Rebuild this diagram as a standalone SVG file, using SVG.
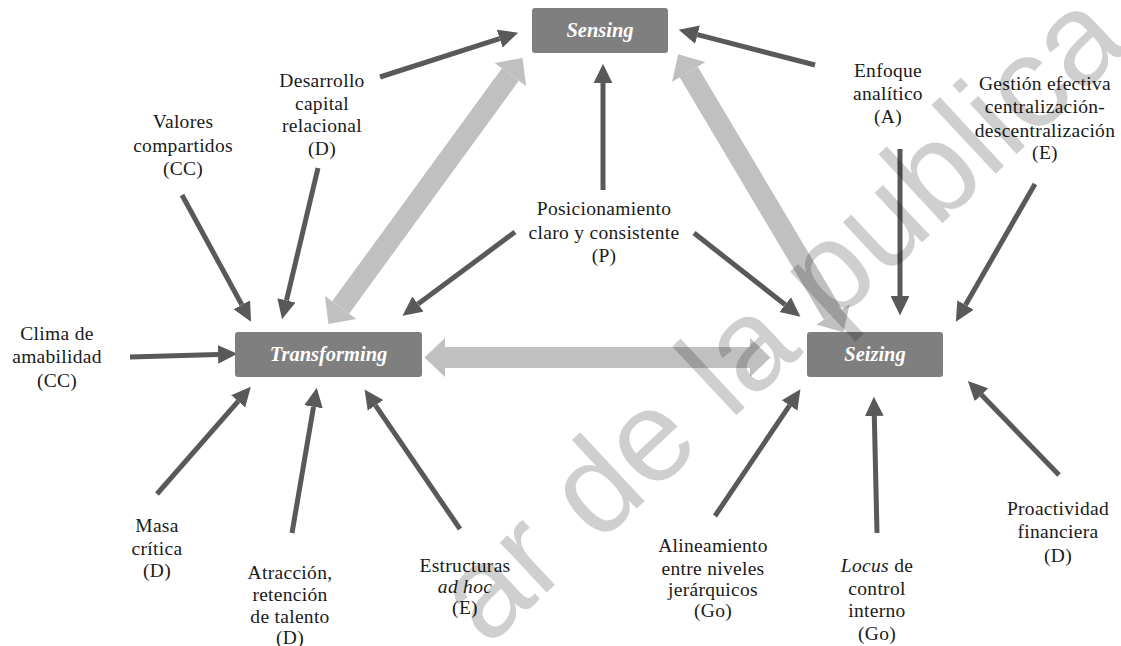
<svg xmlns="http://www.w3.org/2000/svg" width="1121" height="646" viewBox="0 0 1121 646">
  <style>
    .lbl { font-size: 19.5px; fill: #1a1a1a; text-anchor: middle; letter-spacing: 0.3px; }
    .it { font-style: italic; }
    .box { fill: #7f7f7f; }
    .title { font-size: 20.5px; font-style: italic; font-weight: bold; fill: #ffffff; text-anchor: middle; }
    .dark { stroke: #595959; stroke-width: 5; fill: none; marker-end: url(#headDark); }
    .light { stroke: #c0c0c0; stroke-width: 21; fill: none; marker-start: url(#headLight); marker-end: url(#headLight); }
    .wm { font-size: 130px; fill: #000000; fill-opacity: 0.19; }
  </style>
  <defs>
    <marker id="headDark" markerUnits="userSpaceOnUse" markerWidth="20" markerHeight="20" viewBox="0 -8 16 16" refX="0" refY="0" orient="auto">
      <path d="M0,-7.5 L15.5,0 L0,7.5 z" fill="#595959"/>
    </marker>
    <marker id="headLight" markerUnits="userSpaceOnUse" markerWidth="24" markerHeight="40" viewBox="0 -18 20 36" refX="0" refY="0" orient="auto-start-reverse">
      <path d="M0,-17.5 L18.5,0 L0,17.5 z" fill="#c0c0c0"/>
    </marker>
  </defs>

  <!-- wide two-way links between the three capabilities -->
  <g id="connectors">
    <line class="light" x1="445" y1="357.5" x2="750" y2="357.5"/>
    <line class="light" x1="340.6" y1="307.5" x2="510.4" y2="74.5"/>
    <line class="light" x1="688.7" y1="72" x2="832.9" y2="314.5"/>

    <!-- single-factor arrows -->
    <line class="dark" x1="380" y1="77" x2="499.7" y2="38.6"/>
    <line class="dark" x1="815" y1="65" x2="697.5" y2="34.7"/>
    <line class="dark" x1="603" y1="190" x2="603" y2="83"/>
    <line class="dark" x1="515" y1="232" x2="418" y2="304.1"/>
    <line class="dark" x1="694" y1="233" x2="785.2" y2="304.7"/>
    <line class="dark" x1="182" y1="195" x2="241.8" y2="304.8"/>
    <line class="dark" x1="318" y1="168" x2="286.5" y2="300.4"/>
    <line class="dark" x1="130" y1="357" x2="218" y2="354.4"/>
    <line class="dark" x1="157" y1="494" x2="238.1" y2="401.3"/>
    <line class="dark" x1="292" y1="533" x2="313.5" y2="406.8"/>
    <line class="dark" x1="460" y1="529" x2="375.5" y2="405.4"/>
    <line class="dark" x1="715" y1="516" x2="789.6" y2="405.4"/>
    <line class="dark" x1="877" y1="533" x2="874.3" y2="416"/>
    <line class="dark" x1="1059" y1="475" x2="981.4" y2="394.8"/>
    <line class="dark" x1="900" y1="149" x2="900" y2="296"/>
    <line class="dark" x1="1035" y1="184" x2="965.5" y2="305"/>
  </g>

  <g font-family="Liberation Serif, Times New Roman, serif">
    <g id="sensing">
      <rect class="box" x="532" y="8" width="136" height="45" rx="3"/>
      <text class="title" x="600" y="37">Sensing</text>
    </g>
    <g id="transforming">
      <rect class="box" x="235" y="332" width="187" height="45" rx="3"/>
      <text class="title" x="328.5" y="361">Transforming</text>
    </g>
    <g id="seizing">
      <rect class="box" x="807" y="332" width="136" height="45" rx="3"/>
      <text class="title" x="875" y="361">Seizing</text>
    </g>

    <g id="valores">
      <text class="lbl" x="183" y="128">Valores</text>
      <text class="lbl" x="183" y="152">compartidos</text>
      <text class="lbl" x="183" y="175">(CC)</text>
    </g>
    <g id="desarrollo">
      <text class="lbl" x="322" y="87">Desarrollo</text>
      <text class="lbl" x="322" y="110">capital</text>
      <text class="lbl" x="322" y="132">relacional</text>
      <text class="lbl" x="322" y="155">(D)</text>
    </g>
    <g id="enfoque">
      <text class="lbl" x="888" y="77">Enfoque</text>
      <text class="lbl" x="888" y="100">analítico</text>
      <text class="lbl" x="888" y="123">(A)</text>
    </g>
    <g id="gestion">
      <text class="lbl" x="1045" y="90">Gestión efectiva</text>
      <text class="lbl" x="1045" y="113">centralización-</text>
      <text class="lbl" x="1045" y="137">descentralización</text>
      <text class="lbl" x="1045" y="159">(E)</text>
    </g>
    <g id="posicionamiento">
      <text class="lbl" x="604" y="215">Posicionamiento</text>
      <text class="lbl" x="604" y="239">claro y consistente</text>
      <text class="lbl" x="604" y="262">(P)</text>
    </g>
    <g id="clima">
      <text class="lbl" x="57" y="340">Clima de</text>
      <text class="lbl" x="57" y="363">amabilidad</text>
      <text class="lbl" x="57" y="387">(CC)</text>
    </g>
    <g id="masa">
      <text class="lbl" x="157" y="532">Masa</text>
      <text class="lbl" x="157" y="555">crítica</text>
      <text class="lbl" x="157" y="577">(D)</text>
    </g>
    <g id="atraccion">
      <text class="lbl" x="290" y="579">Atracción,</text>
      <text class="lbl" x="290" y="601">retención</text>
      <text class="lbl" x="290" y="623">de talento</text>
      <text class="lbl" x="290" y="644">(D)</text>
    </g>
    <g id="estructuras">
      <text class="lbl" x="465" y="572">Estructuras</text>
      <text class="lbl it" x="465" y="593">ad hoc</text>
      <text class="lbl" x="465" y="614">(E)</text>
    </g>
    <g id="alineamiento">
      <text class="lbl" x="713" y="552">Alineamiento</text>
      <text class="lbl" x="713" y="575">entre niveles</text>
      <text class="lbl" x="713" y="596">jerárquicos</text>
      <text class="lbl" x="713" y="617">(Go)</text>
    </g>
    <g id="locus">
      <text class="lbl" x="877" y="572"><tspan class="it">Locus</tspan> de</text>
      <text class="lbl" x="877" y="595">control</text>
      <text class="lbl" x="877" y="617">interno</text>
      <text class="lbl" x="877" y="640">(Go)</text>
    </g>
    <g id="proactividad">
      <text class="lbl" x="1058" y="515">Proactividad</text>
      <text class="lbl" x="1058" y="538">financiera</text>
      <text class="lbl" x="1058" y="562">(D)</text>
    </g>
  </g>

  <!-- diagonal watermark across the sheet -->
  <text class="wm" font-family="Liberation Sans, Arial, sans-serif" transform="translate(487,648) rotate(-43)">ar de la publica</text>
</svg>
